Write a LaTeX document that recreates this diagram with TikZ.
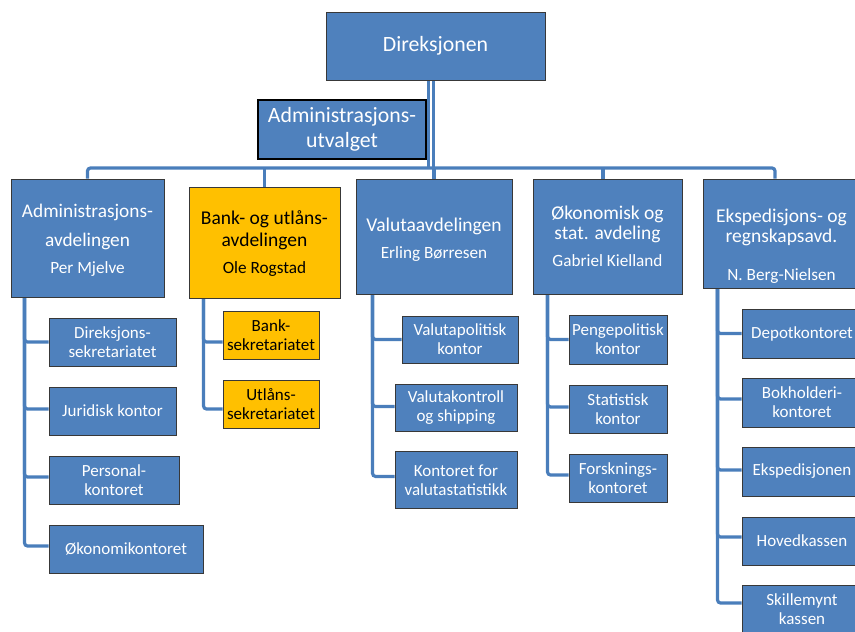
\documentclass[tikz,border=0pt]{standalone}
\usepackage{fontspec}
\setmainfont{Carlito}
\usetikzlibrary{backgrounds}

\definecolor{boxblue}{HTML}{4F81BD}
\definecolor{boxedge}{HTML}{383838}
\definecolor{linkblue}{HTML}{4A7EBB}
\definecolor{bankgold}{HTML}{FFC000}

\tikzset{
  unit/.style={draw=boxedge, line width=0.9pt, fill=boxblue, text=white,
    inner sep=0pt, align=center, font=\fontsize{17}{19}\selectfont},
  goldunit/.style={unit, fill=bankgold, text=black},
  caption/.style={inner sep=0pt, align=center, text=white,
    font=\fontsize{19.5}{22}\selectfont},
  link/.style={draw=linkblue, line width=3.2pt, rounded corners=3pt},
}
\newcommand{\personname}[1]{{\fontsize{17.2}{19}\selectfont #1}}

\begin{document}
\begin{tikzpicture}[x=1pt, y=-1pt]
\useasboundingbox (0,0) rectangle (855,632);
\clip (0,0) rectangle (855,632);

% board level
\node[unit, minimum width=219pt, minimum height=68pt,
      font=\fontsize{21.8}{25}\selectfont] (dir) at (435.5,46) {Direksjonen};
\node[unit, draw=black, line width=2.2pt, minimum width=168pt, minimum height=59pt,
      font=\fontsize{21.8}{25}\selectfont] (util) at (342,129.5)
      {Administrasjons-\\utvalget};

% departments
\node[unit, minimum width=153pt, minimum height=118pt] (adm) at (87.5,238) {};
\node[goldunit, minimum width=151pt, minimum height=111pt] (bank) at (264.5,242.5) {};
\node[unit, minimum width=156pt, minimum height=115pt] (valuta) at (434,236.5) {};
\node[unit, minimum width=149pt, minimum height=115pt] (okon) at (607.5,236.5) {};
\node[unit, minimum width=157pt, minimum height=109pt] (eksp) at (781.5,233.5) {};

\node[caption, font=\fontsize{19.3}{22}\selectfont] (adm-t) at (87.5,240)
  {Administrasjons-\\[7pt]avdelingen\\[4.7pt]\personname{Per Mjelve}};
\node[caption, text=black] (bank-t) at (264.5,243.7)
  {Bank- og utlåns-\\avdelingen\\[5.5pt]\personname{Ole Rogstad}};
\node[caption] (valuta-t) at (434,239.5)
  {Valutaavdelingen\\[5.5pt]\personname{Erling Børresen}};
\node[caption] (okon-t) at (607.5,236.5)
  {Økonomisk og\\[-2pt]stat. avdeling\\[5.5pt]\personname{Gabriel Kielland}};
\node[caption] (eksp-t) at (781.5,246)
  {Ekspedisjons- og\\[-2pt]regnskapsavd.\\[16.5pt]\personname{N. Berg-Nielsen}};

% offices under Administrasjonsavdelingen
\node[unit, minimum width=127pt, minimum height=48pt] (a1) at (112.5,342) {Direksjons-\\sekretariatet};
\node[unit, minimum width=127pt, minimum height=48pt] (a2) at (112.5,411) {Juridisk kontor};
\node[unit, minimum width=130pt, minimum height=48pt] (a3) at (114,480) {Personal-\\kontoret};
\node[unit, minimum width=154pt, minimum height=48pt] (a4) at (126,549) {Økonomikontoret};

% offices under Bank- og utlånsavdelingen
\node[goldunit, minimum width=96pt, minimum height=48pt] (b1) at (271,335) {Bank-\\sekretariatet};
\node[goldunit, minimum width=96pt, minimum height=48pt] (b2) at (271,404) {Utlåns-\\sekretariatet};

% offices under Valutaavdelingen
\node[unit, minimum width=116pt, minimum height=47pt] (v1) at (460,339.5) {Valutapolitisk\\kontor};
\node[unit, minimum width=122pt, minimum height=47pt] (v2) at (456,407.5) {Valutakontroll\\og shipping};
\node[unit, minimum width=122pt, minimum height=57pt] (v3) at (456,480.4) {Kontoret for\\valutastatistikk};

% offices under Økonomisk og stat. avdeling
\node[unit, minimum width=98pt, minimum height=49pt] (o1) at (618,339.5) {Pengepolitisk\\kontor};
\node[unit, minimum width=98pt, minimum height=48pt] (o2) at (618,409) {Statistisk\\kontor};
\node[unit, minimum width=98pt, minimum height=48pt] (o3) at (618,478) {Forsknings-\\kontoret};

% offices under Ekspedisjons- og regnskapsavd.
\node[unit, minimum width=120pt, minimum height=49pt] (e1) at (802,333.5) {Depotkontoret};
\node[unit, minimum width=120pt, minimum height=49pt] (e2) at (802,402.5) {Bokholderi-\\kontoret};
\node[unit, minimum width=120pt, minimum height=49pt] (e3) at (802,471.5) {Ekspedisjonen};
\node[unit, minimum width=120pt, minimum height=48pt] (e4) at (802,541) {Hovedkassen};
\node[unit, minimum width=120pt, minimum height=48pt] (e5) at (802,609) {Skillemynt\\kassen};

\begin{scope}[on background layer]
  \coordinate (busy) at (0,168);
  \coordinate (dlA) at ([xshift=-7pt]dir.south);
  \coordinate (dlB) at ([xshift=-2pt]dir.south);

  % double line from the board down to the department bus
  \draw[link, line width=3pt] (dlA) -- (dlA |- busy);
  \draw[link, line width=3pt] (dlB) -- (dlB |- busy);
  \draw[link, line width=3pt] (util.east) -- (util.east -| dlA);

  % department bus
  \draw[link] (adm.north) -- (adm.north |- busy)
    -- ([xshift=-6.5pt]eksp.north |- busy) -- ([xshift=-6.5pt]eksp.north);
  \draw[link] (bank.north) -- (bank.north |- busy);
  \draw[link] (valuta.north) -- (valuta.north |- busy);
  \draw[link] ([xshift=-4.5pt]okon.north) -- ([xshift=-4.5pt]okon.north |- busy);

  % office trees
  \foreach \o/\s in {a1/0, a2/2, a3/3, a4/3}
    \draw[link] ([xshift=14pt]adm.south west) |- ([yshift=\s pt]\o.west);
  \foreach \o/\s in {b1/-7, b2/-5}
    \draw[link] ([xshift=15pt]bank.south west) |- ([yshift=\s pt]\o.west);
  \foreach \o/\s in {v1/0, v2/1, v3/4}
    \draw[link] ([xshift=17pt]valuta.south west) |- ([yshift=\s pt]\o.west);
  \foreach \o/\s in {o1/0, o2/2, o3/3}
    \draw[link] ([xshift=15pt]okon.south west) |- ([yshift=\s pt]\o.west);
  \foreach \o/\s in {e1/0, e2/3.5, e3/1.5, e4/4, e5/6}
    \draw[link] ([xshift=15pt]eksp.south west) |- ([yshift=\s pt]\o.west);
\end{scope}
\end{tikzpicture}
\end{document}
